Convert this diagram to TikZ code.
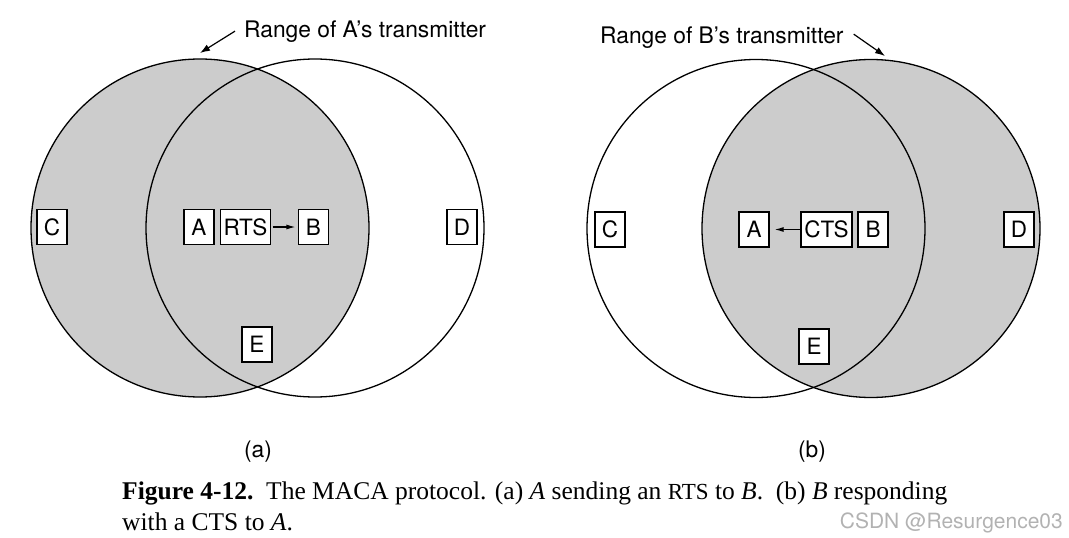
\documentclass[tikz,border=0pt]{standalone}
\usepackage{fontspec}
\setmainfont{Liberation Serif}
\setsansfont{TeX Gyre Heros}
\newfontfamily\lblfont{TeX Gyre Heros}
\usetikzlibrary{arrows.meta}
\begin{document}
\begin{tikzpicture}[x=1pt,y=-1pt,
  circ/.style={line width=1.3pt},
  shade/.style={fill=black!20},
  stn/.style={draw, fill=white, line width=1.2pt, minimum width=30pt, minimum height=35pt, inner sep=0pt, font=\lblfont\fontsize{22.5}{24}\selectfont},
  msg/.style={draw, fill=white, line width=1.2pt, minimum height=35pt, inner xsep=3pt, inner ysep=0pt, font=\lblfont\fontsize{22.5}{24}\selectfont},
  lbl/.style={inner sep=0pt, font=\lblfont\fontsize{22.8}{24}\selectfont},
  rangearrow/.style={line width=1.2pt, -{Latex[length=10pt,width=7pt]}},
  sig/.style={line width=1.2pt, -{Latex[length=9pt,width=5pt]}},
  captext/.style={inner sep=0pt, anchor=base west, font=\fontsize{25.5}{28}\selectfont}
]
\useasboundingbox (0,0) rectangle (1069,538);
% ---------- panel (a)
\fill[shade] (200,228) circle[radius=169];
\draw[circ] (200,228) circle[radius=169];
\draw[circ] (315,228) circle[radius=169];
\node[stn] (aC) at (52,227) {C};
\node[stn] (aA) at (199,227) {A};
\node[msg, minimum width=49pt] (aRTS) at (245.5,227) {RTS};
\node[stn] (aB) at (313.5,227) {B};
\node[stn] (aD) at (462,227) {D};
\node[stn] (aE) at (257,344.5) {E};
\draw[sig, shorten <=1.5pt, shorten >=2.5pt] (aRTS.east) -- (aB.west);
\node[lbl, anchor=base west] (rangeA) at (244,37) {Range of A’s transmitter};
\coordinate (tipA) at (200,53);
\draw[rangearrow] ([xshift=-9pt]rangeA.west) -- (tipA);
\node[lbl] (labA) at (258,452) {(a)};
% ---------- panel (b)
\fill[shade] (871,228.5) circle[radius=169];
\draw[circ] (756,228.5) circle[radius=169];
\draw[circ] (871,228.5) circle[radius=169];
\node[stn] (bC) at (610,229.5) {C};
\node[stn] (bA) at (754,229.5) {A};
\node[msg, minimum width=51pt] (bCTS) at (826.5,229.5) {CTS};
\node[stn] (bB) at (873,229.5) {B};
\node[stn] (bD) at (1019,229.5) {D};
\node[stn] (bE) at (814,346.5) {E};
\draw[sig, shorten >=5pt] (bCTS.west) -- (bA.east);
\node[lbl, anchor=base west] (rangeB) at (600,43) {Range of B’s transmitter};
\coordinate (tipB) at (885,56);
\draw[rangearrow] ([xshift=10pt,yshift=3pt]rangeB.east) -- (tipB);
\node[lbl] (labB) at (812,452) {(b)};
% ---------- caption
\node[captext] (cap1) at (122,499) {\textbf{Figure 4-12.}\ \ The MACA protocol. (a) \textit{A} sending an {\fontsize{23}{28}\selectfont RTS} to \textit{B}.\ \ (b) \textit{B} responding};
\node[captext] (cap2) at (122,530) {with a CTS to \textit{A}.};
\node[inner sep=0pt, anchor=base east, text=black!30, font=\sffamily\fontsize{21}{24}\selectfont] (wm) at (1063,528) {CSDN @Resurgence03};
\end{tikzpicture}
\end{document}
